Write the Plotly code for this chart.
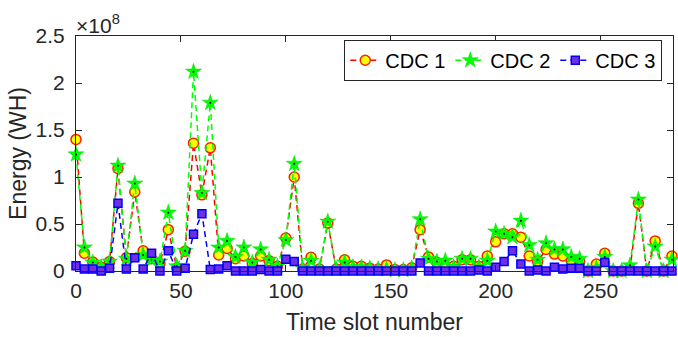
import plotly.graph_objects as go

time_slots = list(range(0, 288, 4))

cdc1 = [1.40, 0.19, 0.095, 0.04, 0.10, 1.09, 0.14, 0.84, 0.215, 0.13,
        0.08, 0.44, 0.03, 0.21, 1.36, 0.81, 1.31, 0.17, 0.24, 0.13,
        0.16, 0.08, 0.16, 0.11, 0.05, 0.35, 1.00, 0.02, 0.145, 0.02,
        0.51, 0.02, 0.12, 0.05, 0.05, 0.03, 0.02, 0.065, 0.015, 0.015,
        0.035, 0.44, 0.15, 0.09, 0.05, 0.05, 0.12, 0.12, 0.05, 0.16,
        0.31, 0.395, 0.395, 0.36, 0.16, 0.10, 0.23, 0.18, 0.16, 0.105,
        0.10, 0.0, 0.075, 0.19, 0.0, 0.0, 0.02, 0.72, 0.0, 0.32,
        0.0, 0.16]

cdc2 = [1.24, 0.25, 0.09, 0.04, 0.10, 1.12, 0.13, 0.93, 0.17, 0.12,
        0.10, 0.62, 0.05, 0.215, 2.12, 0.83, 1.79, 0.25, 0.32, 0.15,
        0.25, 0.09, 0.23, 0.12, 0.05, 0.33, 1.14, 0.03, 0.11, 0.02,
        0.525, 0.02, 0.09, 0.04, 0.04, 0.03, 0.02, 0.02, 0.01, 0.01,
        0.03, 0.55, 0.13, 0.10, 0.11, 0.04, 0.13, 0.13, 0.04, 0.11,
        0.42, 0.395, 0.36, 0.535, 0.275, 0.12, 0.295, 0.23, 0.23, 0.15,
        0.13, 0.0, 0.03, 0.15, 0.0, 0.0, 0.06, 0.76, 0.0, 0.26,
        0.0, 0.12]

cdc3 = [0.055, 0.02, 0.02, 0.0, 0.03, 0.72, 0.02, 0.14, 0.02, 0.19,
        0.0, 0.215, 0.0, 0.03, 0.39, 0.61, 0.015, 0.02, 0.056, 0.0,
        0.0, 0.0, 0.015, 0.0, 0.0, 0.125, 0.10, 0.0, 0.0, 0.0,
        0.0, 0.0, 0.0, 0.0, 0.0, 0.0, 0.0, 0.0, 0.0, 0.0,
        0.0, 0.085, 0.0, 0.0, 0.0, 0.0, 0.0, 0.0, 0.01, 0.0,
        0.04, 0.10, 0.215, 0.075, 0.0, 0.01, 0.0, 0.04, 0.02, 0.03,
        0.03, 0.0, 0.0, 0.09, 0.0, 0.0, 0.0, 0.0, 0.0, 0.0,
        0.0, 0.0]

y_tick_vals = [0, 0.5, 1, 1.5, 2, 2.5]
y_tick_text = ["0", "0.5", "1", "1.5", "2", "2.5"]
x_tick_vals = [0, 50, 100, 150, 200, 250]

FONT = "Liberation Sans, Arial, sans-serif"
AX = "#262626"
DASH = "6px,4px"

fig = go.Figure()
fig.add_trace(go.Scatter(
    x=time_slots, y=cdc1, name="CDC 1", mode="lines+markers",
    line=dict(color="#ff0000", width=1.5, dash=DASH),
    marker=dict(symbol="circle", size=10, color="#ffff00",
                line=dict(color="#ff2000", width=1.5)),
    cliponaxis=False))
fig.add_trace(go.Scatter(
    x=time_slots, y=cdc2, name="CDC 2", mode="lines+markers",
    line=dict(color="#00ff00", width=1.5, dash=DASH),
    marker=dict(symbol="star", size=12, color="#00ff00",
                line=dict(color="#00dd00", width=0.5)),
    cliponaxis=False))
fig.add_trace(go.Scatter(
    x=time_slots, y=cdc2, mode="markers", showlegend=False,
    marker=dict(symbol="circle", size=2, color="#000000"),
    hoverinfo="skip", cliponaxis=False))
fig.add_trace(go.Scatter(
    x=time_slots, y=cdc3, name="CDC 3", mode="lines+markers",
    line=dict(color="#0000ff", width=1.5, dash=DASH),
    marker=dict(symbol="square", size=8, color="#7030e0",
                line=dict(color="#0000ff", width=1.5)),
    cliponaxis=False))

fig.update_layout(
    width=678, height=337,
    margin=dict(l=76, r=5, t=36, b=66, autoexpand=False),
    paper_bgcolor="white", plot_bgcolor="white",
    font=dict(family=FONT, size=21, color=AX),
    showlegend=True,
    legend=dict(orientation="h", x=0.982, y=0.984, xanchor="right", yanchor="top",
                bgcolor="white", bordercolor=AX, borderwidth=1,
                font=dict(size=20, color="#000000"), itemwidth=30,
                tracegroupgap=0),
    xaxis=dict(range=[0, 284.5], tickvals=x_tick_vals, ticks="inside", ticklen=6,
               showline=True, linecolor=AX, linewidth=1, mirror="ticks",
               showgrid=False, zeroline=False, tickcolor=AX, automargin=False,
               tickfont=dict(size=21, color=AX), ticklabelstandoff=1,
               title=dict(text="Time slot number", font=dict(size=23, color=AX), standoff=12)),
    yaxis=dict(range=[0, 2.5], tickvals=y_tick_vals, ticktext=y_tick_text,
               ticks="inside", ticklen=6,
               showline=True, linecolor=AX, linewidth=1, mirror="ticks",
               showgrid=False, zeroline=False, tickcolor=AX, automargin=False,
               tickfont=dict(size=21, color=AX), ticklabelstandoff=6,
               title=dict(text="Energy (WH)", font=dict(size=23, color=AX), standoff=2)),
)
fig.add_annotation(xref="paper", yref="paper", x=0, y=1, xanchor="left", yanchor="bottom",
                   text="×10<sup>8</sup>", showarrow=False,
                   font=dict(size=21, color=AX, family=FONT), xshift=-2, yshift=-3)

fig.write_html("out.html", config={"displayModeBar": False},
               post_script="document.body.style.margin='0px';document.body.style.overflow='hidden';")
